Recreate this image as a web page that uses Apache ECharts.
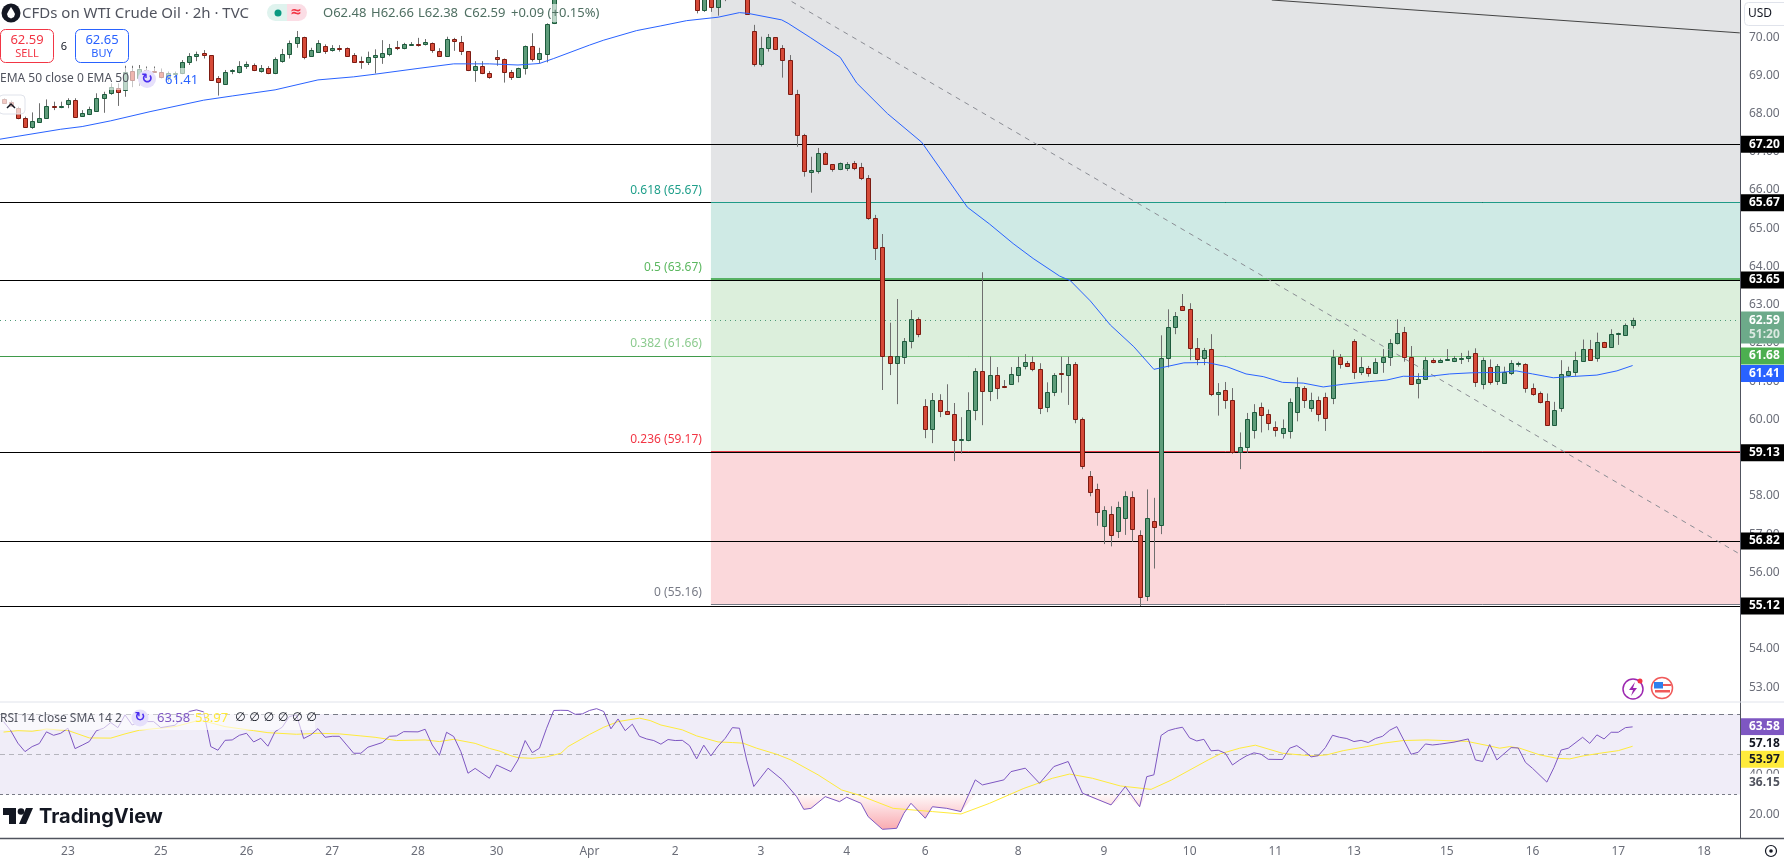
<!DOCTYPE html>
<html lang="en">
<head>
  <meta charset="UTF-8">
  <title>CFDs on WTI Crude Oil</title>
  <script src="https://cdn.jsdelivr.net/npm/echarts@6/dist/echarts.min.js"></script>
  <style>
    html, body { margin: 0; padding: 0; background: #fff; }
    #main { width: 1784px; height: 860px; }
  </style>
</head>
<body>
<div id="main"></div>
<script>
  // 2h bars, null = above the visible price range
  const barOpen = [68.37,68.31,68.14,67.88,67.66,67.79,67.88,68.21,68.16,68.26,68.35,67.93,68.00,68.08,68.42,68.53,68.66,68.62,69.12,68.92,
    69.14,69.12,69.10,68.95,69.03,69.05,69.36,69.51,69.58,69.53,68.92,68.77,69.12,69.08,69.24,69.28,69.12,69.20,69.06,69.38,
    69.55,69.84,69.99,69.51,69.62,69.77,69.65,69.71,69.71,69.52,69.37,69.36,69.47,69.49,69.55,69.74,69.71,69.80,69.82,69.81,
    69.84,69.64,69.50,69.94,69.86,69.63,69.13,69.24,69.05,69.47,69.42,69.10,68.95,69.18,69.78,69.44,69.55,70.36,
    null,null,null,null,null,null,null,null,null,null,null,null,null,null,null,null,null,null,null,
    71.20,70.70,71.10,70.78,71.30,null,null,71.20,70.15,69.29,69.71,69.99,69.71,69.39,68.50,67.43,66.48,66.51,66.96,66.67,66.54,
    66.58,66.70,66.60,66.31,65.27,64.50,61.66,61.48,61.64,62.06,62.64,60.34,59.75,60.52,60.23,60.13,59.47,59.47,60.25,61.28,
    60.75,61.17,60.87,60.93,61.17,61.40,61.49,61.33,60.33,60.72,61.21,61.17,61.44,60.00,58.53,58.17,57.22,57.52,57.07,57.43,
    57.97,56.98,55.38,57.34,57.25,61.61,62.42,62.96,62.88,61.88,61.61,61.83,60.67,60.76,60.50,59.15,59.27,59.72,60.32,60.14,
    59.80,59.65,59.70,60.20,60.81,60.30,60.50,60.60,60.55,61.63,61.47,62.04,61.25,61.34,61.22,61.49,61.64,62.00,62.28,61.63,
    60.96,61.05,61.55,61.51,61.56,61.54,61.57,61.62,61.74,60.94,61.36,61.00,60.96,61.22,61.45,61.44,60.81,60.68,60.47,59.86,
    60.29,61.17,61.25,61.54,61.83,61.60,62.02,61.90,62.23,62.22,62.48];
  const barClose = [68.27,68.20,67.88,67.66,67.80,67.88,68.21,68.16,68.21,68.35,67.92,68.01,68.11,68.42,68.50,68.69,68.57,69.10,68.89,69.16,
    69.03,69.10,68.96,69.05,69.05,69.35,69.50,69.55,69.52,68.89,68.83,69.08,69.14,69.24,69.30,69.13,69.20,69.06,69.42,69.55,
    69.84,69.99,69.48,69.66,69.84,69.64,69.71,69.69,69.51,69.34,69.36,69.47,69.52,69.58,69.71,69.72,69.81,69.82,69.80,69.86,
    69.65,69.50,69.94,69.89,69.63,69.13,69.24,69.05,68.95,69.42,69.10,68.95,69.18,69.78,69.42,69.58,70.34,71.20,
    null,null,null,null,null,null,null,null,null,null,null,null,null,null,null,null,null,null,null,
    70.70,71.10,70.78,71.10,71.40,null,null,70.61,69.29,69.71,70.01,69.68,69.39,68.50,67.43,66.49,66.52,66.96,66.67,66.54,66.70,
    66.68,66.58,66.31,65.27,64.49,61.66,61.48,61.65,62.06,62.64,62.24,59.75,60.52,60.22,60.13,59.47,59.48,60.26,61.28,60.75,
    61.15,60.83,60.85,61.20,61.38,61.49,61.31,60.30,60.73,61.17,61.20,61.44,60.02,58.77,58.11,57.58,57.64,56.98,57.70,58.00,
    57.13,55.35,57.43,57.19,61.62,62.43,62.70,62.87,61.88,61.59,61.81,60.67,60.73,60.52,59.15,59.27,60.02,60.20,60.11,59.90,
    59.72,59.78,60.45,60.84,60.50,60.50,60.15,60.05,61.63,61.46,61.41,61.25,61.36,61.22,61.49,61.63,61.99,62.25,61.64,60.94,
    61.05,61.55,61.49,61.56,61.57,61.60,61.62,61.65,60.97,61.55,60.98,61.39,61.23,61.47,61.47,60.83,60.67,60.46,59.86,60.26,
    61.19,61.26,61.55,61.83,61.56,62.02,61.89,62.23,62.25,62.46,62.59];
  const barHigh = [68.40,68.34,68.18,67.92,68.03,68.27,68.37,68.31,68.31,68.40,68.40,68.09,68.18,68.53,68.57,68.79,68.79,69.25,69.25,69.27,
    69.23,69.23,69.18,69.10,69.10,69.40,69.58,69.62,69.66,69.53,68.98,69.14,69.16,69.37,69.36,69.31,69.27,69.24,69.47,69.69,
    69.91,70.16,70.01,69.72,69.92,69.81,69.79,69.79,69.73,69.58,69.49,69.62,69.68,69.92,69.82,69.90,69.85,69.87,69.98,69.95,
    69.86,69.71,70.01,69.98,70.03,69.63,69.37,69.37,69.11,69.66,69.44,69.14,69.20,69.78,70.10,69.72,70.36,71.30,
    null,null,null,null,null,null,null,null,null,null,null,null,null,null,null,null,null,null,null,
    71.30,71.20,71.20,71.20,71.50,null,null,71.30,70.32,70.01,70.08,69.99,69.79,69.53,68.62,67.47,66.87,67.10,67.00,66.68,66.72,
    66.73,66.76,66.71,66.39,65.35,64.85,62.53,63.15,62.13,62.86,62.67,60.53,60.69,60.66,60.92,60.43,60.06,60.71,61.34,63.85,
    61.65,61.37,61.03,61.37,61.64,61.71,61.65,61.47,60.97,61.21,61.64,61.64,61.50,60.05,58.65,58.32,57.73,57.73,57.85,58.12,
    58.12,57.10,58.17,57.95,62.20,62.88,62.81,63.28,63.04,62.13,61.87,62.23,60.95,60.98,60.82,59.66,60.17,60.40,60.44,60.26,
    59.95,60.00,60.55,61.10,60.87,60.70,60.60,60.70,61.82,61.71,61.53,62.10,61.63,61.40,61.60,61.84,62.10,62.62,62.42,61.92,
    61.21,61.63,61.60,61.59,61.84,61.66,61.74,61.80,61.86,61.62,61.57,61.45,61.38,61.55,61.51,61.47,60.94,60.73,60.68,60.46,
    61.55,61.38,61.77,62.09,62.08,62.27,62.03,62.36,62.27,62.51,62.66];
  const barLow = [68.25,68.17,67.85,67.66,67.60,67.79,67.88,68.09,68.14,68.14,67.92,67.92,67.96,68.05,68.02,68.49,68.20,68.44,68.69,68.72,
    68.92,69.07,68.92,68.83,68.88,69.03,69.27,69.37,69.44,68.88,68.47,68.75,69.03,69.05,69.17,69.11,69.07,69.03,69.03,69.33,
    69.44,69.72,69.42,69.49,69.59,69.56,69.62,69.62,69.51,69.33,69.17,69.27,69.05,69.30,69.50,69.66,69.68,69.78,69.75,69.78,
    69.59,69.48,69.49,69.64,69.53,69.11,68.83,69.03,68.91,69.25,68.81,68.88,68.94,69.02,69.36,69.31,69.34,70.34,
    null,null,null,null,null,null,null,null,null,null,null,null,null,null,null,null,null,null,null,
    70.62,70.66,70.66,70.56,70.94,null,null,70.58,69.23,69.23,69.62,69.66,68.94,68.49,67.13,66.35,65.93,66.43,66.66,66.48,66.52,
    66.50,66.52,66.26,65.22,64.17,60.77,61.16,60.40,61.45,61.86,62.15,59.51,59.38,60.06,60.13,58.91,59.11,59.43,59.98,59.85,
    60.48,60.53,60.82,60.92,60.97,61.31,61.26,60.14,60.19,60.61,60.70,60.38,59.90,58.70,57.99,57.22,56.74,56.68,56.90,56.98,
    56.80,55.12,55.25,56.10,57.00,61.36,62.23,62.84,61.55,61.42,61.42,60.61,60.10,60.28,59.10,58.70,59.12,59.50,59.66,59.72,
    59.55,59.50,59.50,59.95,60.30,60.20,59.95,59.70,60.40,61.33,61.37,61.06,61.16,61.12,61.19,61.22,61.40,61.96,61.51,60.91,
    60.55,61.03,61.47,61.49,61.54,61.50,61.45,61.50,60.85,60.79,60.91,60.90,60.94,61.16,61.38,60.70,60.62,60.42,59.83,59.85,
    60.20,61.12,61.14,61.51,61.55,61.51,61.88,61.90,61.95,62.19,62.38];

  const emaX = [-0.5,8,11,15,20.5,28,32,38,44,49,52,58,63,68,72,75,77,82,84,88.6,91.9,95.6,100,103,104.2,108.9,109.8,112.9,117.1,119.4,123.7,128.5,134.9,138,141.3,144.1,147.8,149.3,152.1,154.9,158.2,161,165.2,168.4,171.2,173.9,176.3,179,181.9,184.7,187.5,191.2,193.6,195.9,199.2,202.4,205.5,209.4,211.7,214,216.9,219.3,223,225.8,228];
  const emaY = [67.33,67.59,67.66,67.81,68.05,68.35,68.46,68.62,68.88,68.96,69.03,69.18,69.30,69.30,69.27,69.31,69.44,69.79,69.92,70.17,70.29,70.43,70.52,70.64,70.62,70.45,70.36,69.99,69.47,68.80,68.00,67.25,65.55,65.11,64.60,64.21,63.75,63.63,63.10,62.47,61.90,61.31,61.48,61.49,61.38,61.19,61.12,60.97,60.95,60.85,60.92,60.99,61.03,61.13,61.12,61.19,61.22,61.23,61.27,61.19,61.09,61.12,61.16,61.27,61.41];

  const rsiX = [0,1,2,3,4,5,6,7,8,9,10,11,12,13,14,15,16,17,18,19,21,22,24,25,26,27,28,29,30,31,32,33,34,35,36,37,38,39,40,41,42,43,44,45,46,47,49,50,51,53,54,55,56,58,59,60,61,62,63,64,65,66,68,69,71,72,73,74,75,76,77,78,79,80,81,82,83,84,85,86,87,88,89,90,91,92,93,94,95,96,97,98,99,100,101,102,103,104,105,107,109,111,112,113,115,117,118,120,121,123,125,126,127,129,130,132,134,136,137,140,141,143,145,147,149,151,155,157,159,160,161,162,163,164,165,166,167,168,169,170,171,172,173,174,175,176,177,179,180,181,182,183,184,185,186,187,188,189,190,191,192,193,194,195,197,198,199,200,201,203,205,206,207,208,209,211,212,213,214,216,217,218,219,221,222,223,224,225,226,227,228];
  const rsiY = [66.2,61.7,55.5,51.3,53.8,55.3,61.1,59.4,60.4,62.9,52.8,54.5,56.3,61.7,62.9,65.7,63.2,69.5,64.5,66.2,66.2,63.2,64.4,67.9,71.2,72.0,71.0,53.8,52.0,56.9,57.1,59.4,60.4,56.1,57.9,54.0,61.2,63.4,68.7,69.5,57.8,59.6,62.7,58.4,58.9,58.9,50.5,50.5,53.5,55.8,58.9,59.1,61.2,61.1,62.4,54.6,49.5,60.9,58.8,51.3,40.6,43.0,38.1,44.7,41.4,47.2,56.8,50.8,53.0,62.9,71.7,71.8,71.7,69.8,70.0,71.7,72.6,71.2,62.6,67.5,61.7,64.9,58.9,57.6,56.8,55.0,57.3,56.8,56.9,54.3,47.7,54.5,49.2,54.1,57.9,63.2,62.9,47.2,34.0,43.1,37.3,29.0,22.7,23.2,29.0,26.5,28.7,25.7,19.1,12.8,13.3,20.7,25.7,18.3,24.0,23.2,21.6,37.3,34.8,37.3,41.4,43.1,35.6,43.9,46.4,30.7,24.9,34.0,24.0,38.9,39.8,59.3,61.7,62.7,63.4,58.1,56.6,57.4,51.7,52.0,50.5,44.7,47.2,49.3,50.7,50.0,47.5,47.4,53.0,54.3,51.8,48.7,49.3,53.3,59.4,58.4,57.8,56.3,56.9,55.8,57.8,58.9,61.9,63.7,50.0,51.0,55.1,54.6,55.0,56.0,57.6,47.2,46.4,54.8,47.2,53.3,53.1,46.0,43.0,36.2,43.5,52.1,53.0,58.4,55.4,59.6,57.6,60.9,60.9,63.2,63.58];

  const smaX = [0,2,4,6,9,12,15,17,19,24,27,28,31,35,37,41,44,47,50,52,55,59,61,63,66,68,69.5,71,72,74,76,78,79,82,84,86,89,90.5,92,95,97,100,102,103.5,105.4,108.2,110.2,114,117.3,119.7,124.5,130,134,138,142.8,146.8,149.2,152.4,156.3,160.6,163.5,168.6,170.3,173,175.2,179,181.4,183.3,185.2,187.5,190.8,193.1,195.9,199.2,204.8,208,209.4,210.8,212.2,215,217.4,219.2,221.1,223.4,226,228];
  const smaY = [61.0,61.7,61.4,62.5,61.8,58.1,58.0,60.1,61.9,63.7,66.5,66.5,63.7,61.7,60.7,59.9,60.4,60.1,59.1,58.4,56.8,57.1,56.3,57.4,55.4,52.9,51.5,49.3,48.3,48.0,48.7,50.5,53.8,59.8,63.4,66.2,67.9,66.7,64.5,62.1,59.1,56.1,55.8,55.5,53.0,50.0,47.2,39.8,32.3,29.8,23.2,21.6,20.4,25.7,33.1,38.1,40.2,38.1,34.3,32.6,37.3,47.2,50.2,53.0,54.5,50.5,49.7,49.2,49.7,51.8,53.8,55.5,56.8,57.1,56.4,54.1,53.0,53.8,53.0,49.7,48.0,47.7,49.2,50.5,51.8,53.97];

  const trendX = [110.3, 242.8];
  const trendY = [70.93, 56.50];
  const channelX = [177.5, 243];
  const channelY = [70.97, 70.11];

  const blackLevels = [67.20, 63.65, 59.13, 56.82, 55.12];
  const fibRatios = ['0.618', '0.5', '0.382', '0.236', '0'];
  const fibPrices = [65.67, 63.67, 61.66, 59.17, 55.16];
  const priceTicks = [70,69,68,67,66,65,64,63,62,61,60,58,57,56,54,53];
  const rsiTicks = [40, 20];
  const dayIndex = [9,22,34,46,58,69,82,94,106,118,129,142,154,166,178,189,202,214,226,238];
  const dayLabels = ['23','25','26','27','28','30','Apr','2','3','4','6','8','9','10','11','13','15','16','17','18'];

  const xMin = -0.5, xMax = 243.03, fibStart = 99;
  const FONT = '"Noto Sans", sans-serif';
  const HIDDEN = 'rgba(0,0,0,0)';
  const fibLine = ['#1f9a87', '#2e9e3a', '#81c784', '#e53946', '#787b86'];
  const fibText = ['#1f9f8a', '#5cb860', '#8ccb8f', '#f23645', '#787b86'];
  const fibFill = ['#cfeae5', '#dcefdc', '#e5f3e6', '#fbd8db'];

  function tag(text, bg, fg, dy) {
    return {
      show: true, position: 'end', distance: 1, formatter: text,
      backgroundColor: bg, color: fg, fontFamily: FONT, fontSize: 12, fontWeight: 'bold',
      padding: [2, 3, 2, 8], width: 32, lineHeight: 13, offset: [0, dy || 0]
    };
  }
  function hLine(y, from, color, width, type, label) {
    return [
      { xAxis: from, yAxis: y, lineStyle: { color: color, width: width, type: type || 'solid', opacity: 1 }, label: label || { show: false } },
      { xAxis: xMax, yAxis: y }
    ];
  }

  const bars = barOpen.map((o, i) => [i, o, barClose[i], barLow[i], barHigh[i]]).filter(b => b[1] !== null);

  function renderBar(params, api) {
    const x = api.value(0), o = api.value(1), c = api.value(2), l = api.value(3), h = api.value(4);
    const px = Math.round(api.coord([x, o])[0]) + 0.5;
    const yo = api.coord([x, o])[1], yc = api.coord([x, c])[1];
    const top = Math.round(Math.min(yo, yc)), bot = Math.max(Math.round(Math.max(yo, yc)), top + 1);
    const up = c >= o;
    return {
      type: 'group',
      children: [
        { type: 'line', shape: { x1: px, y1: api.coord([x, h])[1], x2: px, y2: api.coord([x, l])[1] }, style: { stroke: '#6f6f6f', lineWidth: 1 } },
        { type: 'rect', shape: { x: px - 2, y: top + 0.5, width: 4, height: bot - top }, style: { fill: up ? '#5e9c7a' : '#d64a38', stroke: up ? '#1d5a3c' : '#7c1b12', lineWidth: 1 } }
      ]
    };
  }

  // pieces of the legend and the buttons
  function txt(text, x, y, font, fill, align) {
    return { type: 'text', x: x, y: y, z: 102, silent: true, style: { text: text, font: font, fill: fill, textAlign: align || 'left', textVerticalAlign: 'middle' } };
  }
  function box(x, y, w, h, fill, stroke, r, z) {
    return { type: 'rect', z: z || 99, silent: true, shape: { x: x, y: y, width: w, height: h, r: r || 0 }, style: { fill: fill, stroke: stroke || 'none', lineWidth: 1 } };
  }
  function disc(x, y, r, fill, stroke, lw) {
    return { type: 'circle', z: 100, silent: true, shape: { cx: x, cy: y, r: r }, style: { fill: fill, stroke: stroke || 'none', lineWidth: lw || 1 } };
  }
  function poly(points, fill, stroke, lw) {
    return { type: fill ? 'polygon' : 'polyline', z: 101, silent: true, shape: { points: points }, style: { fill: fill || 'none', stroke: stroke || 'none', lineWidth: lw || 1 } };
  }

  const overlay = [
    // panes and axis lines
    { type: 'line', z: 90, silent: true, shape: { x1: 0, y1: 702, x2: 1784, y2: 702 }, style: { stroke: '#e0e3eb', lineWidth: 1 } },
    { type: 'line', z: 90, silent: true, shape: { x1: 0, y1: 838.5, x2: 1784, y2: 838.5 }, style: { stroke: '#50535e', lineWidth: 1.5 } },
    // header
    box(0, 4, 262, 18, 'rgba(255,255,255,0.6)'),
    disc(11, 13, 9.5, '#131722'),
    poly([[11, 7], [13.5, 11], [15, 14], [14, 17], [11, 18.5], [8, 17], [7, 14], [8.5, 11]], '#fff'),
    txt('CFDs on WTI Crude Oil · 2h · TVC', 22, 13.5, '15px ' + FONT, '#50535e'),
    box(267, 4, 20, 17, '#dff3ee', null, [8.5, 0, 0, 8.5]),
    box(287, 4, 20, 17, '#fbdde5', null, [0, 8.5, 8.5, 0]),
    disc(278, 13, 3.5, '#089981'),
    txt('≈', 296, 12, 'bold 14px "DejaVu Sans"', '#f23645', 'center'),
    box(320, 4, 280, 18, 'rgba(255,255,255,0.6)'),
    txt('O62.48', 323, 13.5, '13px ' + FONT, '#4f6f62'),
    txt('H62.66', 371, 13.5, '13px ' + FONT, '#4f6f62'),
    txt('L62.38', 418, 13.5, '13px ' + FONT, '#4f6f62'),
    txt('C62.59', 464, 13.5, '13px ' + FONT, '#4f6f62'),
    txt('+0.09 (+0.15%)', 511, 13.5, '13px ' + FONT, '#4f6f62'),
    // sell / buy
    box(0.5, 29.5, 53, 33, '#fff', '#f23645', 5),
    txt('62.59', 27, 40, '13px ' + FONT, '#f23645', 'center'),
    txt('SELL', 27, 54, '11px ' + FONT, '#f23645', 'center'),
    txt('6', 64, 47, '11px ' + FONT, '#131722', 'center'),
    box(75.5, 29.5, 53, 33, '#fff', '#2962ff', 5),
    txt('62.65', 102, 40, '13px ' + FONT, '#2962ff', 'center'),
    txt('BUY', 102, 54, '11px ' + FONT, '#2962ff', 'center'),
    // EMA legend
    box(0, 68, 198, 22, 'rgba(255,255,255,0.6)'),
    txt('EMA 50 close 0 EMA 50', 0, 79, '12px ' + FONT, '#50535e'),
    disc(147, 79, 9, '#e6e0fb'),
    txt('↻', 147, 79, 'bold 14px "DejaVu Sans"', '#4a2df0', 'center'),
    txt('61.41', 165, 80, '13px ' + FONT, '#2962ff'),
    box(-1, 95, 26, 19, 'rgba(255,255,255,0.7)', '#e0e3eb', 4),
    poly([[7, 108], [11, 104], [15, 108]], null, '#131722', 1.5),
    // RSI legend
    box(0, 712, 315, 18, 'rgba(255,255,255,0.6)'),
    txt('RSI 14 close SMA 14 2', 0, 719, '12px ' + FONT, '#50535e'),
    disc(140, 718, 8.5, '#e6e0fb'),
    txt('↻', 140, 718, 'bold 13px "DejaVu Sans"', '#4a2df0', 'center'),
    txt('63.58', 157, 718, '13px ' + FONT, '#7e57c2'),
    txt('53.97', 195, 718, '13px ' + FONT, '#ffeb3b'),
    txt('∅ ∅ ∅ ∅ ∅ ∅', 235, 718, '12px "DejaVu Sans"', '#131722'),
    // event icons
    disc(1633, 689, 10, '#fff', '#9c27b0', 1.5),
    poly([[1635, 682], [1629, 690], [1633, 690], [1631, 696], [1637, 688], [1633, 688]], '#9c27b0'),
    disc(1640, 681, 2.5, '#f23645'),
    disc(1662, 688, 10.5, '#fff', '#f05a5a', 1.5),
    box(1654, 682, 9, 6.5, '#2f80ed', null, 0, 101),
    box(1663, 684, 8, 2, '#f05a5a', null, 0, 101),
    box(1655, 690, 15, 2.5, '#f05a5a', null, 0, 101),
    // TradingView mark
    poly([[3, 808], [16, 808], [16, 824], [9, 824], [9, 815], [3, 815]], '#131722'),
    disc(21, 811.5, 3.3, '#131722'),
    poly([[26, 808], [33, 808], [26, 824], [19, 824]], '#131722'),
    txt('TradingView', 39, 817, 'bold 20px Inter, ' + FONT, '#131722'),
    // USD and the settings button
    box(1744.5, 2.5, 44, 23, '#fff', '#e0e3eb', 4),
    txt('USD', 1748, 14, '12px ' + FONT, '#131722'),
    disc(1771, 851, 5.5, '#fff', '#131722', 1.2),
    disc(1771, 851, 1.8, '#131722')
  ];

  const option = {
    animation: false,
    backgroundColor: '#fff',
    textStyle: { fontFamily: FONT },
    tooltip: { show: false },
    graphic: { elements: overlay },
    grid: [
      { left: 0, right: 44, top: 0, height: 702, containLabel: false },
      { left: 0, right: 44, top: 702, height: 136, containLabel: false }
    ],
    xAxis: [
      { gridIndex: 0, type: 'value', min: xMin, max: xMax, splitLine: { show: false }, axisLine: { show: false }, axisTick: { show: false }, axisLabel: { show: false } },
      {
        gridIndex: 1, type: 'value', min: xMin, max: xMax, splitLine: { show: false }, axisLine: { show: false }, axisTick: { show: false },
        axisLabel: {
          customValues: dayIndex, formatter: v => dayLabels[dayIndex.indexOf(v)],
          color: '#6a6d78', fontSize: 12, margin: 8, hideOverlap: false
        }
      }
    ],
    yAxis: [
      {
        gridIndex: 0, type: 'value', position: 'right', min: 52.61, max: 70.97, splitLine: { show: false },
        axisLine: { show: true, onZero: false, lineStyle: { color: '#50535e' } }, axisTick: { show: false },
        axisLabel: { customValues: priceTicks, formatter: v => v.toFixed(2), color: '#6a6d78', fontSize: 12, margin: 9 }
      },
      {
        gridIndex: 1, type: 'value', position: 'right', min: 8.5, max: 75.9, splitLine: { show: false },
        axisLine: { show: true, onZero: false, lineStyle: { color: '#50535e' } }, axisTick: { show: false },
        axisLabel: { customValues: rsiTicks, formatter: v => v.toFixed(2), color: '#6a6d78', fontSize: 12, margin: 9 }
      }
    ],
    series: [
      {
        name: 'fib', type: 'line', data: [], silent: true,
        markArea: {
          silent: true, z: 1,
          data: [[{ xAxis: fibStart, yAxis: 70.97, itemStyle: { color: '#e3e4e6' } }, { xAxis: xMax, yAxis: fibPrices[0] }]].concat(
            fibFill.map((c, k) => [{ xAxis: fibStart, yAxis: fibPrices[k], itemStyle: { color: c } }, { xAxis: xMax, yAxis: fibPrices[k + 1] }]))
        }
      },
      {
        name: 'levels', type: 'line', data: [], silent: true,
        markLine: {
          silent: true, symbol: 'none', z: 1, animation: false,
          data: blackLevels.map(v => hLine(v, xMin, '#000', 1.2, 'solid', tag(v.toFixed(2), '#000', '#fff')))
            .concat([hLine(65.67, xMin, '#000', 1.2, 'solid', tag('65.67', '#000', '#fff'))])
            .concat([hLine(62.59, xMin, '#4e9a78', 1, [1, 4], {
              show: true, position: 'end', distance: 1, backgroundColor: '#6daa8a', padding: [2, 3, 2, 8], width: 32, lineHeight: 14, offset: [0, 7],
              formatter: '{a|62.59}\n{b|51:20}',
              rich: { a: { color: '#fff', fontWeight: 'bold', fontSize: 12, fontFamily: FONT, lineHeight: 14 }, b: { color: '#dbe9e1', fontWeight: 'bold', fontSize: 12, fontFamily: FONT, lineHeight: 14 } }
            })])
            .concat([hLine(61.41, xMax - 1, HIDDEN, 1, 'solid', tag('61.41', '#2962ff', '#fff', 8))])
            .concat([hLine(61.66, xMin, '#3f9a4a', 1, 'solid', tag('61.68', '#4caf50', '#fff'))])
            .concat(fibPrices.map((v, k) => hLine(v, fibStart, fibLine[k], k === 1 ? 1.5 : 1)))
        }
      },
      {
        name: 'fib labels', type: 'line', data: [], silent: true,
        markLine: {
          silent: true, symbol: 'none', z: 1, animation: false,
          data: fibPrices.map((v, k) => hLine(v, fibStart, HIDDEN, 1, 'solid', {
            show: true, position: 'start', distance: 9, offset: [0, -12],
            formatter: fibRatios[k] + ' (' + v.toFixed(2) + ')', color: fibText[k], fontSize: 12, fontFamily: FONT
          }))
        }
      },
      {
        name: 'WTI', type: 'custom', renderItem: renderBar, clip: true, z: 2, silent: true,
        encode: { x: 0, y: [1, 2, 3, 4] }, data: bars
      },
      {
        name: 'channel', type: 'line', showSymbol: false, silent: true, z: 3,
        lineStyle: { color: '#444', width: 1 }, data: channelX.map((x, i) => [x, channelY[i]])
      },
      {
        name: 'trend', type: 'line', showSymbol: false, silent: true, z: 3,
        lineStyle: { color: '#8b8d94', width: 1, type: [5, 5] }, data: trendX.map((x, i) => [x, trendY[i]])
      },
      {
        name: 'EMA 50', type: 'line', showSymbol: false, silent: true, z: 3,
        lineStyle: { color: '#2962ff', width: 1 }, data: emaX.map((x, i) => [x, emaY[i]])
      },
      {
        name: 'oversold', type: 'line', xAxisIndex: 1, yAxisIndex: 1, showSymbol: false, silent: true, z: 2,
        lineStyle: { width: 0 },
        areaStyle: {
          origin: 30, opacity: 1,
          color: { type: 'linear', x: 0, y: 0, x2: 0, y2: 1, colorStops: [{ offset: 0, color: 'rgba(242,54,69,0.03)' }, { offset: 1, color: 'rgba(242,54,69,0.42)' }] }
        },
        data: rsiX.map((x, i) => [x, Math.min(rsiY[i], 30)])
      },
      {
        name: 'SMA 14', type: 'line', xAxisIndex: 1, yAxisIndex: 1, showSymbol: false, silent: true, z: 3,
        lineStyle: { color: '#ffeb3b', width: 1 }, data: smaX.map((x, i) => [x, smaY[i]])
      },
      {
        name: 'RSI 14', type: 'line', xAxisIndex: 1, yAxisIndex: 1, showSymbol: false, silent: true, z: 4,
        lineStyle: { color: '#7e57c2', width: 1 }, data: rsiX.map((x, i) => [x, rsiY[i]]),
        markArea: {
          silent: true, z: 1,
          data: [[{ xAxis: xMin, yAxis: 70, itemStyle: { color: '#f0edf8' } }, { xAxis: xMax, yAxis: 30 }]]
        },
        markLine: {
          silent: true, symbol: 'none', z: 1, animation: false,
          data: [
            hLine(70, xMin, '#787b86', 1, [5, 4]),
            hLine(50, xMin, '#b5b5bd', 1, [5, 4]),
            hLine(30, xMin, '#787b86', 1, [3, 3]),
            hLine(63.58, xMax - 1, HIDDEN, 1, 'solid', tag('63.58', '#7e57c2', '#fff')),
            hLine(57.18, xMax - 1, HIDDEN, 1, 'solid', tag('57.18', '#fff', '#131722', 4)),
            hLine(36.15, xMax - 1, HIDDEN, 1, 'solid', tag('36.15', '#fff', '#50535e')),
            hLine(53.97, xMax - 1, HIDDEN, 1, 'solid', tag('53.97', '#ffeb3b', '#131722', 13))
          ]
        }
      }
    ]
  };

  const myChart = echarts.init(document.getElementById('main'));
  myChart.setOption(option);
  window.addEventListener('resize', function () { myChart.resize(); });
</script>
</body>
</html>
